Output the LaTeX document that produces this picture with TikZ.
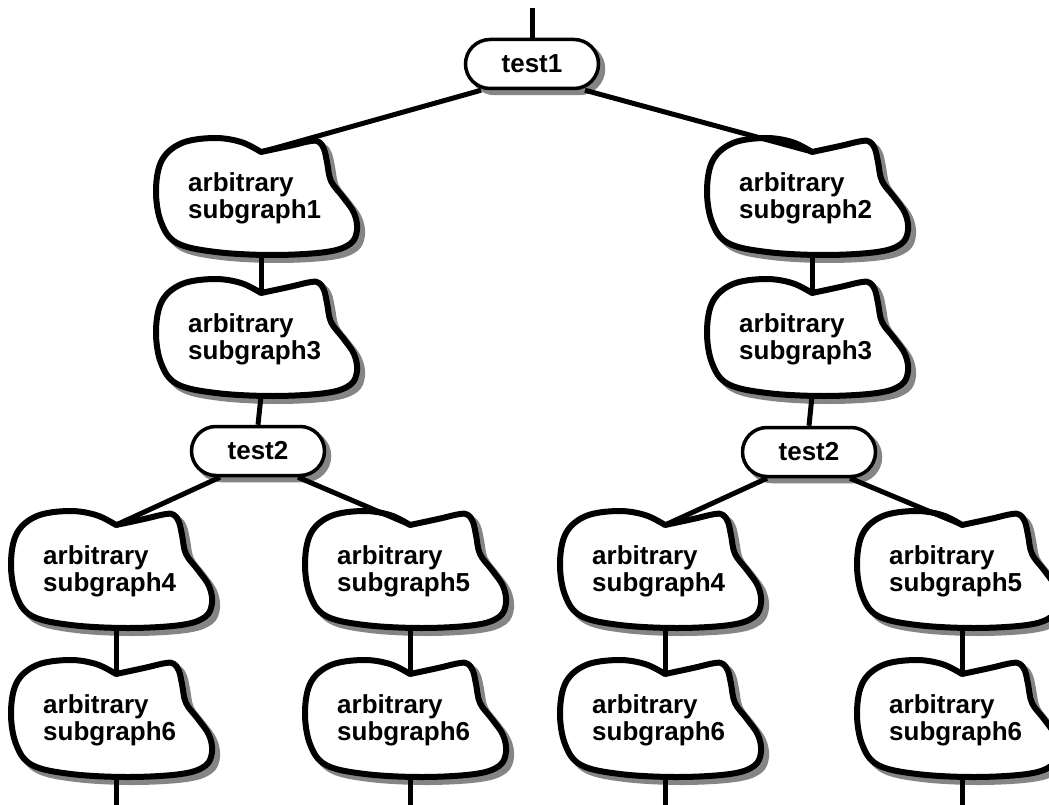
\PassOptionsToPackage{rgb}{xcolor}
\documentclass[tikz,border=0pt]{standalone}
\usepackage{fontspec}
\setmainfont{Liberation Sans}
\usetikzlibrary{shapes.misc,calc}

\definecolor{shadowgray}{rgb}{0.52,0.52,0.52}

% outline of a subgraph cloud, origin at the notch where the edge enters
\newcommand\cloudoutline{plot[smooth, tension=0.6] coordinates {
  (0,0) (28,-6) (50,-11) (58,-10) (63,-3) (66,10) (70,29) (82,45) (93,61)
  (96,78) (89,92) (65,100) (12,103) (-45,100) (-84,91) (-100,70) (-105,38)
  (-99,8) (-79,-9) (-47,-14) (-20,-10) (0,0)} -- cycle}

\tikzset{
  x=1pt, y=-1pt,
  conn/.style={line width=5pt},
  labelfont/.style={font=\bfseries\fontsize{26}{27}\selectfont},
  cloudtext/.style={labelfont, align=left, anchor=west, inner sep=0pt},
  pillshape/.style={rounded rectangle, line width=3.5pt,
    minimum width=133pt, minimum height=49pt, inner sep=0pt, labelfont},
  pill/.style={pillshape, draw=black, fill=white},
  pillshadow/.style={pillshape, draw=shadowgray, fill=shadowgray},
  cloudpic/.pic={
    \begin{scope}[xshift=5pt, yshift=-5pt]
      \filldraw[fill=shadowgray, draw=shadowgray, line width=6pt,
        line join=round] \cloudoutline;
    \end{scope}
    \filldraw[fill=white, draw=black, line width=6pt, line join=round]
      \cloudoutline;
    \coordinate (-top) at (0,0);
    \coordinate (-bot) at (0,103);
    \node[cloudtext] (-txt) at (-73,46.5) {#1};
  }
}

\begin{document}
\begin{tikzpicture}
\useasboundingbox (0,0) rectangle (1049,805);

% decision nodes with their shadows
\node[pillshadow] (t1s) at (537,69) {};
\node[pillshadow] (t2as) at (263,456) {};
\node[pillshadow] (t2bs) at (814,457) {};
\node[pill] (t1) at (532,64) {test1};
\node[pill] (t2a) at (258,451) {test2};
\node[pill] (t2b) at (809,452) {test2};

% subgraph clouds
\pic (s1)  at (261,152) {cloudpic={arbitrary\\subgraph1}};
\pic (s2)  at (812,152) {cloudpic={arbitrary\\subgraph2}};
\pic (s3a) at (261,293) {cloudpic={arbitrary\\subgraph3}};
\pic (s3b) at (812,293) {cloudpic={arbitrary\\subgraph3}};
\pic (s4a) at (116,525) {cloudpic={arbitrary\\subgraph4}};
\pic (s5a) at (410,525) {cloudpic={arbitrary\\subgraph5}};
\pic (s4b) at (665,525) {cloudpic={arbitrary\\subgraph4}};
\pic (s5b) at (962,525) {cloudpic={arbitrary\\subgraph5}};
\pic (s6a) at (116,674) {cloudpic={arbitrary\\subgraph6}};
\pic (s6b) at (410,674) {cloudpic={arbitrary\\subgraph6}};
\pic (s6c) at (665,674) {cloudpic={arbitrary\\subgraph6}};
\pic (s6d) at (962,674) {cloudpic={arbitrary\\subgraph6}};

% open ends of the flow
\coordinate (in)  at (532,8);
\coordinate (o1) at (116,805);
\coordinate (o2) at (410,805);
\coordinate (o3) at (665,805);
\coordinate (o4) at (962,805);

% edges
\draw[conn] (in) -- (t1.north);
\draw[conn] ($(t1.south)+(-51,0)$) -- (s1-top);
\draw[conn] ($(t1.south)+(53,0)$) -- (s2-top);
\draw[conn] (s1-bot) -- (s3a-top);
\draw[conn] (s2-bot) -- (s3b-top);
\draw[conn] (s3a-bot) -- (t2a.north);
\draw[conn] (s3b-bot) -- (t2b.north);
\draw[conn] ($(t2a.south)+(-38,0)$) -- (s4a-top);
\draw[conn] ($(t2a.south)+(40,0)$) -- (s5a-top);
\draw[conn] ($(t2b.south)+(-42,0)$) -- (s4b-top);
\draw[conn] ($(t2b.south)+(41,0)$) -- (s5b-top);
\draw[conn] (s4a-bot) -- (s6a-top);
\draw[conn] (s5a-bot) -- (s6b-top);
\draw[conn] (s4b-bot) -- (s6c-top);
\draw[conn] (s5b-bot) -- (s6d-top);
\draw[conn] (s6a-bot) -- (o1);
\draw[conn] (s6b-bot) -- (o2);
\draw[conn] (s6c-bot) -- (o3);
\draw[conn] (s6d-bot) -- (o4);
\end{tikzpicture}
\end{document}
